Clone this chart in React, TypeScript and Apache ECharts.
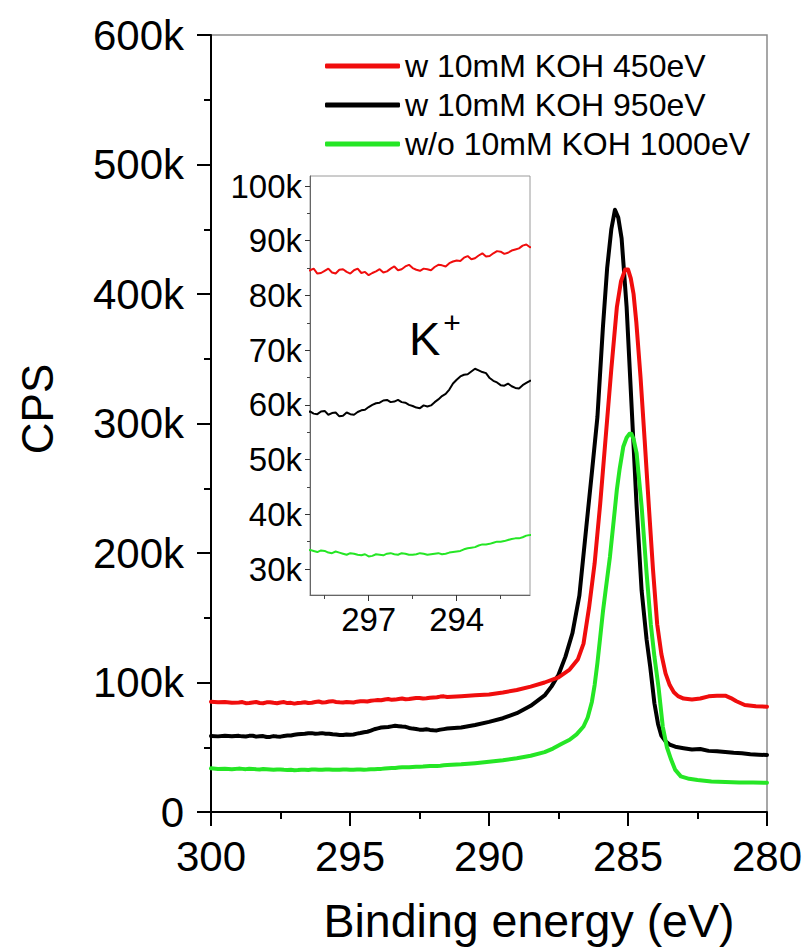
import React, { useEffect, useRef } from 'react';
import * as echarts from 'echarts';

const FONT = '"Liberation Sans", Arial, Helvetica, sans-serif';

const seriesNames = ['w 10mM KOH 450eV', 'w 10mM KOH 950eV', 'w/o 10mM KOH 1000eV'];
const seriesColors = ['#f00d0d', '#000000', '#25e625'];

// [binding energy (eV), counts (k CPS)]
const redData: [number, number][] = [
  [300, 85.2], [299.75, 84.7], [299.5, 85.0], [299.25, 84.4], [299.0, 84.6], [298.875, 84.9], [298.75, 84.0],
  [298.625, 84.1], [298.5, 84.5], [298.375, 84.9], [298.25, 84.2], [298.125, 84.0], [298.0, 84.7], [297.875, 84.8],
  [297.75, 84.3], [297.625, 84.0], [297.5, 84.6], [297.375, 84.9], [297.25, 84.1], [297.125, 84.3], [297.0, 83.7],
  [296.875, 84.1], [296.75, 84.4], [296.625, 84.8], [296.5, 84.2], [296.375, 84.4], [296.25, 84.9], [296.125, 85.3],
  [296.0, 84.6], [295.875, 84.8], [295.75, 85.3], [295.625, 85.6], [295.5, 85.0], [295.375, 84.7], [295.25, 84.5],
  [295.125, 84.9], [295.0, 84.8], [294.875, 84.6], [294.75, 85.2], [294.625, 85.6], [294.5, 85.5], [294.375, 85.3],
  [294.25, 85.9], [294.125, 86.2], [294.0, 86.4], [293.875, 86.3], [293.75, 86.9], [293.625, 87.2], [293.5, 86.6],
  [293.375, 86.8], [293.25, 87.3], [293.125, 87.7], [293.0, 87.1], [292.875, 87.2], [292.75, 87.7], [292.625, 88.1],
  [292.5, 88.0], [292.375, 87.6], [292.25, 87.8], [292.125, 88.2], [292.0, 88.4], [291.875, 88.6], [291.75, 89.1],
  [291.625, 89.3], [291.5, 88.8], [291.0, 89.4], [290.5, 90.1], [290.0, 90.8], [289.5, 92.3], [289.0, 94.2],
  [288.5, 96.8], [288.0, 100.0], [287.5, 104], [287.1, 110], [286.8, 118], [286.6, 130], [286.4, 158],
  [286.2, 192], [286.0, 238], [285.8, 290], [285.6, 342], [285.4, 390], [285.25, 410], [285.1, 419],
  [285.0, 419], [284.9, 412], [284.8, 400], [284.7, 378], [284.55, 336], [284.4, 287], [284.25, 236],
  [284.1, 187], [283.95, 145], [283.8, 122], [283.65, 107], [283.5, 98], [283.35, 92.5], [283.2, 89.5],
  [283.0, 87.6], [282.7, 86.8], [282.4, 87.6], [282.1, 89.3], [281.8, 89.7], [281.5, 89.8], [281.3, 88.0],
  [281.1, 85.5], [280.8, 82.6], [280.4, 81.6], [280.0, 81.3],
];

const blackData: [number, number][] = [
  [300, 58.7], [299.75, 58.4], [299.5, 58.9], [299.25, 58.5], [299.0, 58.8], [298.875, 58.4], [298.75, 58.3],
  [298.625, 58.8], [298.5, 58.9], [298.375, 58.2], [298.25, 58.5], [298.125, 58.6], [298.0, 57.9], [297.875, 58.0],
  [297.75, 58.6], [297.625, 58.3], [297.5, 58.2], [297.375, 58.7], [297.25, 59.0], [297.125, 59.1], [297.0, 59.6],
  [296.875, 60.0], [296.75, 60.3], [296.625, 60.4], [296.5, 60.8], [296.375, 60.9], [296.25, 60.5], [296.125, 60.6],
  [296.0, 60.9], [295.875, 60.5], [295.75, 60.4], [295.625, 60.0], [295.5, 59.8], [295.375, 59.5], [295.25, 59.4],
  [295.125, 59.9], [295.0, 59.7], [294.875, 59.9], [294.75, 60.5], [294.625, 61.0], [294.5, 61.6], [294.375, 62.0],
  [294.25, 62.8], [294.125, 63.9], [294.0, 64.6], [293.875, 65.2], [293.75, 65.5], [293.625, 65.6], [293.5, 66.1],
  [293.375, 66.6], [293.25, 66.3], [293.125, 66.0], [293.0, 65.8], [292.875, 64.9], [292.75, 64.4], [292.625, 64.1],
  [292.5, 63.6], [292.375, 63.5], [292.25, 63.9], [292.125, 63.4], [292.0, 63.1], [291.875, 63.0], [291.75, 63.6],
  [291.625, 64.0], [291.5, 64.4], [291.0, 65.3], [290.5, 67.2], [290.0, 69.6], [289.5, 72.4], [289.0, 76.3],
  [288.5, 82.0], [288.0, 90], [287.75, 97], [287.5, 106], [287.25, 120], [287.0, 138], [286.75, 167],
  [286.5, 220], [286.3, 262], [286.1, 305], [285.9, 375], [285.75, 420], [285.6, 450], [285.47, 465],
  [285.35, 459], [285.23, 443], [285.05, 390], [284.87, 313], [284.69, 236], [284.51, 171], [284.33, 133],
  [284.2, 112], [284.05, 84], [283.92, 68], [283.8, 59], [283.65, 54.5], [283.5, 52], [283.3, 50.4],
  [283.0, 49.3], [282.7, 48.2], [282.4, 48.6], [282.1, 47.2], [281.8, 46.9], [281.5, 46.3], [281.2, 45.7],
  [280.9, 45.4], [280.6, 44.6], [280.3, 44.3], [280.0, 44.0],
];

const greenData: [number, number][] = [
  [300, 33.7], [299.75, 33.2], [299.5, 33.4], [299.25, 33.0], [299.0, 33.5], [298.875, 33.3], [298.75, 33.1],
  [298.625, 33.4], [298.5, 33.3], [298.375, 33.0], [298.25, 32.9], [298.125, 33.2], [298.0, 33.0], [297.875, 32.8],
  [297.75, 32.6], [297.625, 32.9], [297.5, 32.8], [297.375, 32.6], [297.25, 32.5], [297.125, 32.7], [297.0, 32.3],
  [296.875, 32.4], [296.75, 32.7], [296.625, 32.6], [296.5, 32.5], [296.375, 32.8], [296.25, 32.9], [296.125, 32.7],
  [296.0, 32.6], [295.875, 32.9], [295.75, 32.8], [295.625, 32.6], [295.5, 32.6], [295.375, 32.7], [295.25, 32.9],
  [295.125, 32.8], [295.0, 32.6], [294.875, 32.7], [294.75, 32.8], [294.625, 32.9], [294.5, 32.7], [294.375, 32.8],
  [294.25, 33.0], [294.125, 33.1], [294.0, 33.2], [293.875, 33.3], [293.75, 33.6], [293.625, 33.8], [293.5, 33.9],
  [293.375, 34.0], [293.25, 34.3], [293.125, 34.5], [293.0, 34.5], [292.875, 34.6], [292.75, 34.8], [292.625, 35.0],
  [292.5, 35.0], [292.375, 35.1], [292.25, 35.3], [292.125, 35.5], [292.0, 35.6], [291.875, 35.6], [291.75, 35.8],
  [291.625, 36.1], [291.5, 36.2], [291.0, 36.8], [290.5, 37.7], [290.0, 38.8], [289.5, 40.0], [289.0, 41.5],
  [288.5, 43.4], [288.0, 46.2], [287.7, 49.0], [287.4, 52.5], [287.1, 55.8], [286.85, 60], [286.6, 66],
  [286.45, 73], [286.3, 85], [286.2, 98], [286.1, 115], [286.0, 135], [285.9, 155], [285.8, 172],
  [285.65, 197], [285.5, 228], [285.4, 249], [285.3, 265], [285.17, 282], [285.05, 289], [284.95, 292],
  [284.88, 292], [284.8, 288], [284.69, 277], [284.51, 236], [284.33, 184], [284.18, 145], [284.05, 120],
  [283.9, 96], [283.75, 66], [283.6, 50], [283.45, 40.5], [283.3, 32.5], [283.1, 27.5], [282.8, 25.6],
  [282.5, 24.7], [282.0, 23.6], [281.5, 23.2], [281.0, 22.8], [280.5, 22.7], [280.0, 22.6],
];

const mainXRange = [280, 300];
const mainYRange = [0, 600];
const insetXRange = [291.5, 299];
const insetYRange = [25.25, 101.83];
const insetXTicks = [294, 297];
const insetXMinorTicks = [292.5, 295.5, 298.5];
const insetYTicks = [30, 40, 50, 60, 70, 80, 90, 100];
const insetYMinorTicks = [35, 45, 55, 65, 75, 85, 95];

export default function App() {
  const ref = useRef<HTMLDivElement>(null);

  useEffect(() => {
    if (!ref.current) return;
    const chart = echarts.init(ref.current, undefined, { renderer: 'svg' });
    const datasets = [redData, blackData, greenData];
    const drawOrder = [1, 0, 2];

    const mainSeries = drawOrder.map((i, k) => ({
      type: 'line',
      name: seriesNames[i],
      xAxisIndex: 0,
      yAxisIndex: 0,
      data: datasets[i],
      showSymbol: false,
      symbol: 'none',
      clip: true,
      z: 3 + k,
      lineStyle: { width: 4, color: seriesColors[i], cap: 'round', join: 'round' },
      itemStyle: { color: seriesColors[i] },
    }));
    const insetSeries = drawOrder.map((i, k) => ({
      type: 'line',
      name: seriesNames[i],
      xAxisIndex: 1,
      yAxisIndex: 1,
      data: datasets[i],
      showSymbol: false,
      symbol: 'none',
      clip: true,
      z: 10 + k,
      lineStyle: { width: 2, color: seriesColors[i] },
      itemStyle: { color: seriesColors[i] },
    }));

    const option: any = {
      animation: false,
      backgroundColor: '#ffffff',
      textStyle: { fontFamily: FONT },
      grid: [
        { left: 211, top: 35, width: 556, height: 777, show: true, borderColor: '#8a8a8a', borderWidth: 1.5, containLabel: false, outerBoundsMode: 'none' },
        { left: 310, top: 176, width: 220, height: 419, show: true, borderColor: '#9a9a9a', borderWidth: 1, backgroundColor: '#ffffff', containLabel: false, outerBoundsMode: 'none', z: 8 },
      ],
      legend: {
        data: seriesNames,
        orient: 'vertical',
        left: 325,
        top: 50,
        padding: 0,
        itemWidth: 75,
        itemHeight: 5,
        itemGap: 7,
        icon: 'roundRect',
        selectedMode: false,
        textStyle: { fontSize: 32, color: '#000', fontFamily: FONT, lineHeight: 32 },
      },
      xAxis: [
        {
          gridIndex: 0, type: 'value', position: 'bottom', min: mainXRange[0], max: mainXRange[1], interval: 5, inverse: true,
          axisLine: { show: true, onZero: false, lineStyle: { color: '#000', width: 2 } },
          axisTick: { show: true, length: 14, lineStyle: { color: '#000', width: 2 } },
          minorTick: { show: true, splitNumber: 2, length: 7, lineStyle: { color: '#000', width: 2 } },
          splitLine: { show: false }, minorSplitLine: { show: false },
          axisLabel: { fontSize: 42, color: '#000', fontFamily: FONT, margin: 23, showMinLabel: true, showMaxLabel: true, hideOverlap: false },
        },
        {
          gridIndex: 1, type: 'value', position: 'bottom', min: insetXRange[0], max: insetXRange[1], inverse: true, z: 9,
          axisLine: { show: true, onZero: false, lineStyle: { color: '#666', width: 1 } },
          axisTick: { show: true, customValues: insetXTicks, length: 6, lineStyle: { color: '#333', width: 1 } },
          axisLabel: { customValues: insetXTicks, fontSize: 33, color: '#000', fontFamily: FONT, margin: 8 },
          splitLine: { show: false },
        },
        {
          gridIndex: 1, type: 'value', position: 'bottom', min: insetXRange[0], max: insetXRange[1], inverse: true, z: 9,
          axisLine: { show: false },
          axisTick: { show: true, customValues: insetXMinorTicks, length: 4, lineStyle: { color: '#444', width: 1 } },
          axisLabel: { show: false },
          splitLine: { show: false },
        },
      ],
      yAxis: [
        {
          gridIndex: 0, type: 'value', position: 'left', min: mainYRange[0], max: mainYRange[1], interval: 100,
          axisLine: { show: true, onZero: false, lineStyle: { color: '#000', width: 2 } },
          axisTick: { show: true, length: 14, lineStyle: { color: '#000', width: 2 } },
          minorTick: { show: true, splitNumber: 2, length: 7, lineStyle: { color: '#000', width: 2 } },
          splitLine: { show: false }, minorSplitLine: { show: false },
          axisLabel: {
            fontSize: 42, color: '#000', fontFamily: FONT, margin: 27, showMinLabel: true, showMaxLabel: true,
            formatter: (v: number) => (v === 0 ? '0' : `${v}k`),
          },
        },
        {
          gridIndex: 1, type: 'value', position: 'left', min: insetYRange[0], max: insetYRange[1], z: 9,
          axisLine: { show: true, onZero: false, lineStyle: { color: '#666', width: 1 } },
          axisTick: { show: true, customValues: insetYTicks, length: 5, lineStyle: { color: '#333', width: 1 } },
          axisLabel: { customValues: insetYTicks, fontSize: 33, color: '#000', fontFamily: FONT, margin: 8, formatter: (v: number) => `${v}k` },
          splitLine: { show: false },
        },
        {
          gridIndex: 1, type: 'value', position: 'left', min: insetYRange[0], max: insetYRange[1], z: 9,
          axisLine: { show: false },
          axisTick: { show: true, customValues: insetYMinorTicks, length: 3, lineStyle: { color: '#444', width: 1 } },
          axisLabel: { show: false },
          splitLine: { show: false },
        },
      ],
      series: [...mainSeries, ...insetSeries],
      graphic: [
        {
          type: 'text', x: 37, y: 409, rotation: Math.PI / 2, z: 20,
          style: { text: 'CPS', fontSize: 44, fontFamily: FONT, fill: '#000', align: 'center', verticalAlign: 'middle' },
        },
        {
          type: 'text', x: 529, y: 921, z: 20,
          style: { text: 'Binding energy (eV)', fontSize: 46.5, fontFamily: FONT, fill: '#000', align: 'center', verticalAlign: 'middle' },
        },
        {
          type: 'text', x: 409, y: 338, z: 20,
          style: { text: 'K', fontSize: 47, fontFamily: FONT, fill: '#000', align: 'left', verticalAlign: 'middle' },
        },
        {
          type: 'text', x: 452, y: 322, z: 20,
          style: { text: '+', fontSize: 30, fontFamily: FONT, fill: '#000', align: 'center', verticalAlign: 'middle' },
        },
      ],
    };

    chart.setOption(option);
    return () => {
      chart.dispose();
    };
  }, []);

  return (
    <div style={{ position: 'fixed', left: 0, top: 0, width: 808, height: 952, background: '#fff' }}>
      <div ref={ref} style={{ width: 808, height: 952 }} />
    </div>
  );
}
